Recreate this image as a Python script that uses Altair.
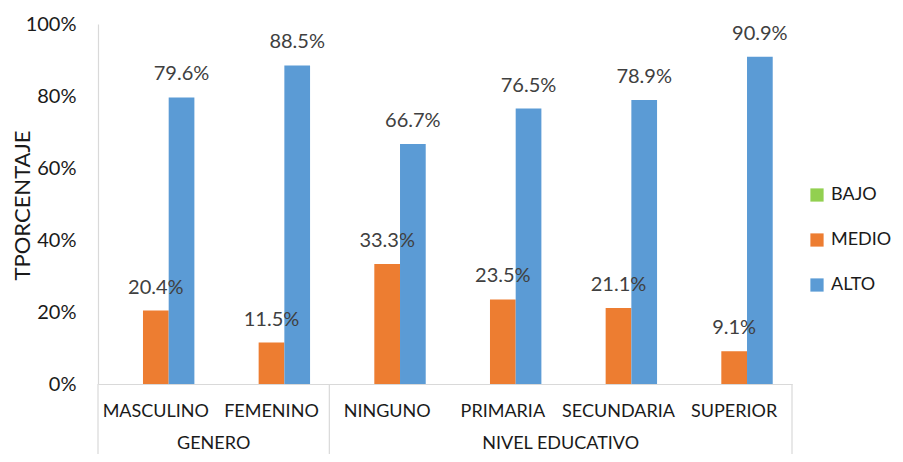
import altair as alt
import pandas as pd

cats = ["MASCULINO", "FEMENINO", "NINGUNO", "PRIMARIA", "SECUNDARIA", "SUPERIOR"]
series = ["BAJO", "MEDIO", "ALTO"]
bajo = [0.0, 0.0, 0.0, 0.0, 0.0, 0.0]
medio = [0.204, 0.115, 0.333, 0.235, 0.211, 0.091]
alto = [0.796, 0.885, 0.667, 0.765, 0.789, 0.909]
colors = ["#92D050", "#ED7D31", "#5B9BD5"]

groups = ["GENERO", "NIVEL EDUCATIVO"]
group_mid = ["FEMENINO", "SECUNDARIA"]          # category whose left edge is the group's centre
sep_left = ["MASCULINO", "NINGUNO"]              # separators at left edge of these
sep_right = ["SUPERIOR"]                         # separator at right edge

rows = []
for s, vals in zip(series, [bajo, medio, alto]):
    for c, v in zip(cats, vals):
        rows.append({"cat": c, "serie": s, "value": v})
df = pd.DataFrame(rows)

FONT = "Lato"
H = 360
W = 694

xscale = alt.Scale(domain=cats, paddingInner=0, paddingOuter=0)
xaxis = alt.Axis(title=None, labelFontSize=18, labelColor="#1a1a1a", labelPadding=18,
                 ticks=False, domainColor="#d9d9d9", domainWidth=1.2, labelAngle=0)
offs = alt.XOffset("serie:N", sort=series,
                   scale=alt.Scale(domain=series, paddingOuter=0.75, paddingInner=0))
yscale = alt.Scale(domain=[0, 1])
yaxis = alt.Axis(title="TPORCENTAJE", format=".0%", values=[0, 0.2, 0.4, 0.6, 0.8, 1.0],
                 labelFontSize=20, labelColor="#1a1a1a", labelPadding=22, ticks=False,
                 grid=False, domainColor="#d9d9d9", domainWidth=1.2,
                 titleFontSize=22, titleFontWeight="normal", titleColor="#1a1a1a",
                 titleX=-76, titleY=181, titleAngle=270, titleBaseline="middle")

bars = alt.Chart(df).mark_bar().encode(
    x=alt.X("cat:N", scale=xscale, axis=xaxis, sort=cats),
    xOffset=offs,
    y=alt.Y("value:Q", scale=yscale, axis=yaxis),
    color=alt.Color("serie:N", sort=series,
                    scale=alt.Scale(domain=series, range=colors),
                    legend=alt.Legend(title=None, orient="none", legendX=710, legendY=162,
                                      symbolType="square", symbolSize=175,
                                      symbolStrokeWidth=0, labelFontSize=18,
                                      labelColor="#1a1a1a", rowPadding=27,
                                      labelOffset=5, padding=0)),
)

labels = alt.Chart(df).transform_filter("datum.value > 0").mark_text(
    baseline="alphabetic", dy=-17, fontSize=20, color="#404040", font=FONT
).encode(
    x=alt.X("cat:N", scale=xscale, axis=xaxis, sort=cats),
    xOffset=offs,
    y=alt.Y("value:Q", scale=yscale, axis=yaxis),
    text=alt.Text("value:Q", format=".1%"),
)

gdf = pd.DataFrame({"cat": group_mid, "grp": groups})
glabels = alt.Chart(gdf).mark_text(baseline="middle", fontSize=18, color="#1a1a1a",
                                   font=FONT).encode(
    x=alt.X("cat:N", scale=xscale, axis=xaxis, sort=cats, bandPosition=0),
    y=alt.value(H + 60),
    text="grp:N",
)

sl = alt.Chart(pd.DataFrame({"cat": sep_left})).mark_rule(color="#d9d9d9", strokeWidth=1.2).encode(
    x=alt.X("cat:N", scale=xscale, axis=xaxis, sort=cats, bandPosition=0),
    y=alt.value(H), y2=alt.value(H + 80),
)
sr = alt.Chart(pd.DataFrame({"cat": sep_right})).mark_rule(color="#d9d9d9", strokeWidth=1.2).encode(
    x=alt.X("cat:N", scale=xscale, axis=xaxis, sort=cats, bandPosition=1),
    y=alt.value(H), y2=alt.value(H + 80),
)

chart = alt.layer(bars, labels, glabels, sl, sr).properties(
    width=W, height=H,
    autosize=alt.AutoSizeParams(type="none"),
    padding={"left": 90, "top": 16, "right": 103, "bottom": 70},
).configure(font=FONT, background="white").configure_view(strokeWidth=0)

chart.save("out.html", embed_options={"renderer": "svg", "actions": False})
